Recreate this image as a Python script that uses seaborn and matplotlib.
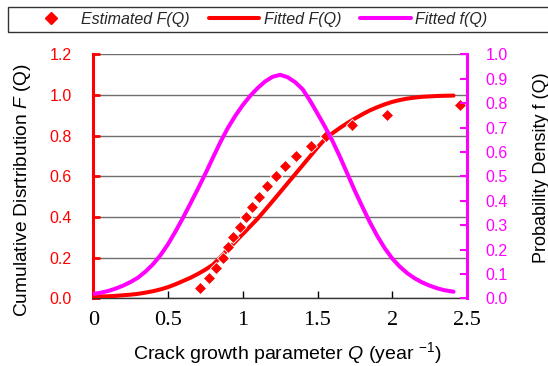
import matplotlib
matplotlib.use("Agg")
import matplotlib.pyplot as plt
from matplotlib.lines import Line2D
from matplotlib.patches import Rectangle
import pandas as pd
import seaborn as sns

# Estimated (empirical) cumulative distribution of the crack growth parameter
q_est = [0.714, 0.776, 0.821, 0.870, 0.903, 0.932, 0.981, 1.021, 1.059, 1.110,
         1.164, 1.222, 1.282, 1.356, 1.454, 1.557, 1.728, 1.967, 2.453]
F_est = [0.05, 0.10, 0.15, 0.20, 0.25, 0.30, 0.35, 0.40, 0.45, 0.50,
         0.55, 0.60, 0.65, 0.70, 0.75, 0.80, 0.85, 0.90, 0.95]

# Fitted distribution: cumulative F(Q) and density f(Q)
q_fit = [0.00, 0.05, 0.10, 0.15, 0.20, 0.25, 0.30, 0.35, 0.40, 0.45,
         0.50, 0.55, 0.60, 0.65, 0.70, 0.75, 0.80, 0.85, 0.90, 0.95,
         1.00, 1.05, 1.10, 1.15, 1.20, 1.25, 1.30, 1.35, 1.40, 1.45,
         1.50, 1.55, 1.60, 1.65, 1.70, 1.75, 1.80, 1.85, 1.90, 1.95,
         2.00, 2.05, 2.10, 2.15, 2.20, 2.25, 2.30, 2.35, 2.41]
F_fit = [0.008, 0.009, 0.010, 0.012, 0.015, 0.018, 0.022, 0.028, 0.035, 0.044,
         0.055, 0.069, 0.085, 0.101, 0.120, 0.141, 0.165, 0.202, 0.240, 0.278,
         0.316, 0.354, 0.392, 0.435, 0.478, 0.522, 0.566, 0.610, 0.654, 0.698,
         0.742, 0.783, 0.812, 0.838, 0.862, 0.884, 0.905, 0.924, 0.940, 0.954,
         0.966, 0.975, 0.982, 0.987, 0.991, 0.993, 0.995, 0.996, 0.997]
f_fit = [0.018, 0.023, 0.030, 0.040, 0.052, 0.067, 0.085, 0.110, 0.140, 0.177,
         0.222, 0.274, 0.330, 0.389, 0.449, 0.511, 0.576, 0.640, 0.698, 0.748,
         0.792, 0.830, 0.862, 0.889, 0.908, 0.916, 0.906, 0.886, 0.857, 0.810,
         0.757, 0.703, 0.645, 0.580, 0.510, 0.440, 0.375, 0.312, 0.255, 0.205,
         0.163, 0.130, 0.103, 0.082, 0.065, 0.052, 0.041, 0.033, 0.027]

left_ticks = [0.0, 0.2, 0.4, 0.6, 0.8, 1.0, 1.2]
right_ticks = [0.0, 0.1, 0.2, 0.3, 0.4, 0.5, 0.6, 0.7, 0.8, 0.9, 1.0]
x_ticks = [0, 0.5, 1, 1.5, 2, 2.5]
x_ticklabels = ["0", "0.5", "1", "1.5", "2", "2.5"]

RED = "#FF0000"
MAGENTA = "#FF00FF"

sns.set_theme(style="white")
plt.rcParams["font.family"] = ["Liberation Sans", "DejaVu Sans"]
plt.rcParams["mathtext.fontset"] = "custom"
plt.rcParams["mathtext.rm"] = "Liberation Sans"
plt.rcParams["mathtext.it"] = "Liberation Sans:italic"

est = pd.DataFrame({"Q": q_est, "F": F_est})
fit = pd.DataFrame({"Q": q_fit, "F": F_fit, "f": f_fit})

fig = plt.figure(figsize=(5.48, 3.66), dpi=100)
ax = fig.add_axes([93.3 / 548, 1 - 298.3 / 366, (467 - 93.3) / 548, (298.3 - 54.3) / 366])
ax2 = ax.twinx()

# horizontal grid on the primary axis
for v in left_ticks:
    ax.axhline(v, color="#6e6e6e", lw=1.0, zorder=0)

sns.lineplot(data=fit, x="Q", y="F", ax=ax, color=RED, lw=2.9, zorder=3,
             legend=False, sort=False)
sns.scatterplot(data=est, x="Q", y="F", ax=ax, color=RED, marker="D", s=38,
                edgecolor="white", linewidth=0.6, zorder=4, legend=False)
sns.lineplot(data=fit, x="Q", y="f", ax=ax2, color=MAGENTA, lw=2.9, zorder=3,
             legend=False, sort=False)

ax.set_xlim(0, 2.5)
ax.set_ylim(0, 1.2)
ax2.set_ylim(0, 1.0)
ax.set_xticks(x_ticks)
ax.set_xticklabels(x_ticklabels, family="Liberation Serif", fontsize=16, color="black")
ax.set_yticks(left_ticks)
ax.set_yticklabels([f"{v:.1f}" for v in left_ticks], fontsize=11.5, color=RED)
ax2.set_yticks(right_ticks)
ax2.set_yticklabels([f"{v:.1f}" for v in right_ticks], fontsize=11.5, color=MAGENTA)

ax.tick_params(axis="x", direction="in", length=5, width=1, color="black", pad=9.5,
               bottom=True)
ax.tick_params(axis="y", direction="in", length=5, width=2, color=RED, pad=15.5,
               left=True)
ax2.tick_params(axis="y", direction="in", length=5, width=1.5, color=MAGENTA,
                pad=13.3, right=True)

for a in (ax, ax2):
    for s in a.spines.values():
        s.set_visible(False)
ax.spines["left"].set_visible(True)
ax.spines["left"].set_color(RED)
ax.spines["left"].set_linewidth(2.2)
ax.spines["bottom"].set_visible(True)
ax.spines["bottom"].set_color("#333333")
ax.spines["bottom"].set_linewidth(1.0)
ax2.spines["right"].set_visible(True)
ax2.spines["right"].set_color(MAGENTA)
ax2.spines["right"].set_linewidth(2.2)

ax.set_xlabel("")
ax.set_ylabel("")
ax2.set_ylabel("")

fig.text(287.5 / 548, 1 - 353.5 / 366, r"Crack growth parameter $Q$ (year $^{-1}$)",
         ha="center", va="center", fontsize=14, color="black")
fig.text(23 / 548, 1 - 190 / 366, r"Cumulative Disrtribution $F$ (Q)",
         ha="center", va="center", rotation=90, fontsize=13.8, color="black")
fig.text(541 / 548, 1 - 168 / 366, "Probability Density f (Q)",
         ha="center", va="center", rotation=90, fontsize=13, color="black")

# legend strip across the top
fig.add_artist(Rectangle((8 / 548, 1 - 32 / 366), 0.99, 25 / 366,
                         transform=fig.transFigure, fill=False,
                         edgecolor="#333333", lw=1.0))
handles = [
    Line2D([], [], color=RED, marker="D", linestyle="None", markersize=6),
    Line2D([], [], color=RED, lw=2.9),
    Line2D([], [], color=MAGENTA, lw=2.9),
]
labels = ["Estimated F(Q)", "Fitted F(Q)", "Fitted f(Q)"]
fig.legend(handles, labels, loc="center left", bbox_to_anchor=(26 / 548, 1 - 19.5 / 366),
           ncol=3, frameon=False, borderpad=0, borderaxespad=0,
           handlelength=3.14, handletextpad=0.3, columnspacing=1.2,
           prop={"family": "Liberation Sans", "style": "italic", "size": 11.5})

fig.savefig("out.png", dpi=100)
